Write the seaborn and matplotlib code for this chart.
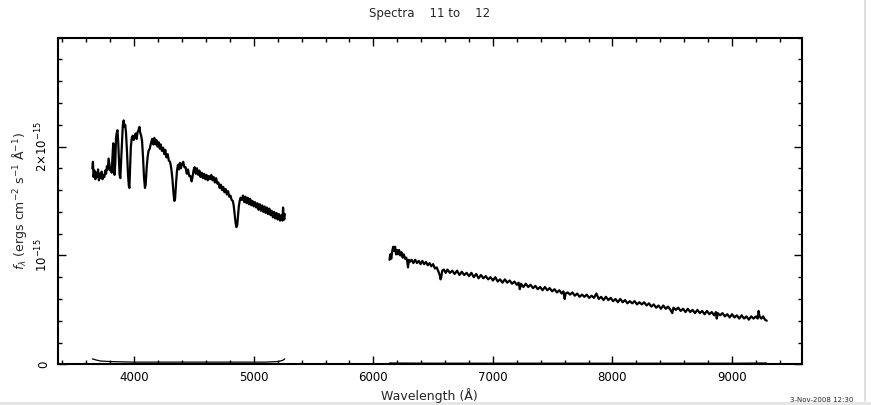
import numpy as np
import pandas as pd
import matplotlib
matplotlib.use("Agg")
import matplotlib.pyplot as plt
from matplotlib.ticker import MultipleLocator, FixedLocator, FixedFormatter
from matplotlib.lines import Line2D
from matplotlib.patches import Rectangle
import seaborn as sns

# ---------------- data (flux in units of 1e-15 erg/cm2/s/A) ----------------
wave_blue = [3650, 3655, 3660, 3668, 3675, 3682, 3690, 3698, 3705, 3712, 3720, 3728, 3735, 3742,
             3750, 3758, 3765, 3772, 3780, 3786, 3792, 3800, 3806, 3812, 3818, 3825, 3830, 3836,
             3842, 3848, 3853, 3860, 3866, 3872, 3878, 3884, 3890, 3898, 3905, 3912, 3918, 3925,
             3932, 3940, 3948, 3955, 3960, 3966, 3972, 3980, 3988, 3996, 4004, 4012, 4020, 4028,
             4036, 4044, 4050, 4058, 4066, 4074, 4082, 4090, 4096, 4104, 4112, 4120, 4130, 4140,
             4150, 4160, 4168, 4176, 4186, 4195, 4205, 4214, 4222, 4232, 4242, 4252, 4260, 4270,
             4280, 4290, 4300, 4310, 4320, 4328, 4336, 4342, 4350, 4358, 4366, 4374, 4382, 4390,
             4400, 4410, 4420, 4430, 4440, 4450, 4460, 4470, 4480, 4488, 4496, 4505, 4515, 4525,
             4535, 4545, 4555, 4565, 4575, 4585, 4595, 4605, 4615, 4625, 4635, 4645, 4655, 4665,
             4675, 4685, 4695, 4705, 4715, 4725, 4735, 4745, 4755, 4765, 4775, 4785, 4795, 4805,
             4815, 4825, 4832, 4840, 4848, 4855, 4862, 4868, 4875, 4882, 4890, 4900, 4910, 4920,
             4930, 4940, 4950, 4960, 4970, 4980, 4990, 5000, 5010, 5020, 5030, 5040, 5050, 5060,
             5070, 5080, 5090, 5100, 5110, 5120, 5130, 5140, 5150, 5160, 5170, 5180, 5190, 5200,
             5210, 5220, 5230, 5240, 5245, 5250, 5255, 5260]
flux_blue = [1.80, 1.86, 1.72, 1.78, 1.70, 1.76, 1.72, 1.79, 1.69, 1.75, 1.71, 1.77, 1.70, 1.74,
             1.72, 1.78, 1.75, 1.82, 1.79, 1.89, 1.84, 1.78, 1.80, 1.76, 1.90, 2.03, 1.95, 1.74,
             1.85, 2.08, 2.12, 2.15, 2.05, 1.90, 1.74, 1.71, 1.85, 2.05, 2.20, 2.24, 2.18, 2.20,
             2.12, 1.95, 1.75, 1.64, 1.62, 1.80, 2.00, 2.08, 2.10, 2.06, 2.10, 2.12, 2.07, 2.13,
             2.15, 2.18, 2.13, 2.10, 2.05, 1.90, 1.72, 1.62, 1.65, 1.80, 1.90, 1.96, 1.98, 2.03,
             2.07, 2.02, 2.08, 2.02, 2.06, 2.00, 2.04, 1.98, 2.02, 1.96, 1.99, 1.93, 1.97, 1.90,
             1.93, 1.87, 1.86, 1.80, 1.70, 1.58, 1.50, 1.52, 1.66, 1.78, 1.83, 1.79, 1.85, 1.80,
             1.84, 1.86, 1.81, 1.81, 1.75, 1.79, 1.73, 1.73, 1.68, 1.72, 1.78, 1.81, 1.75, 1.80,
             1.74, 1.78, 1.72, 1.76, 1.71, 1.75, 1.70, 1.74, 1.69, 1.73, 1.70, 1.74, 1.69, 1.72,
             1.67, 1.71, 1.66, 1.67, 1.62, 1.65, 1.60, 1.63, 1.58, 1.61, 1.56, 1.59, 1.54, 1.55,
             1.51, 1.50, 1.46, 1.38, 1.30, 1.26, 1.28, 1.36, 1.45, 1.50, 1.53, 1.51, 1.55, 1.49,
             1.54, 1.48, 1.53, 1.47, 1.52, 1.46, 1.50, 1.45, 1.49, 1.44, 1.48, 1.42, 1.47, 1.41,
             1.46, 1.40, 1.45, 1.39, 1.44, 1.38, 1.43, 1.37, 1.41, 1.35, 1.40, 1.34, 1.39, 1.33,
             1.38, 1.32, 1.37, 1.32, 1.44, 1.36, 1.33, 1.38]

wave_red = [6135, 6142, 6150, 6158, 6166, 6174, 6182, 6190, 6198, 6206, 6215, 6225, 6235, 6245,
            6255, 6265, 6275, 6283, 6290, 6297, 6305, 6320, 6335, 6350, 6365, 6380, 6395, 6410,
            6425, 6440, 6455, 6470, 6485, 6500, 6515, 6530, 6545, 6555, 6562, 6568, 6576, 6590,
            6605, 6620, 6640, 6660, 6680, 6700, 6720, 6740, 6760, 6780, 6800, 6820, 6840, 6860,
            6880, 6900, 6920, 6940, 6960, 6980, 7000, 7020, 7040, 7060, 7080, 7100, 7120, 7140,
            7160, 7180, 7200, 7215, 7225, 7235, 7255, 7275, 7295, 7315, 7335, 7355, 7375, 7395,
            7415, 7435, 7455, 7475, 7495, 7515, 7535, 7555, 7575, 7590, 7600, 7608, 7625, 7645,
            7665, 7685, 7705, 7725, 7745, 7765, 7785, 7805, 7825, 7845, 7865, 7885, 7905, 7925,
            7945, 7965, 7985, 8005, 8025, 8045, 8065, 8085, 8105, 8125, 8145, 8165, 8185, 8205,
            8225, 8245, 8265, 8285, 8305, 8325, 8345, 8365, 8385, 8405, 8425, 8445, 8465, 8485,
            8500, 8510, 8530, 8550, 8570, 8590, 8610, 8630, 8650, 8670, 8690, 8710, 8730, 8750,
            8770, 8790, 8810, 8830, 8850, 8865, 8872, 8880, 8900, 8920, 8940, 8960, 8980, 9000,
            9020, 9040, 9060, 9080, 9100, 9120, 9140, 9160, 9180, 9200, 9215, 9222, 9230, 9245,
            9260, 9275, 9290]
flux_red = [0.96, 1.01, 0.97, 1.04, 1.08, 1.04, 1.08, 1.01, 1.05, 1.01, 1.05, 1.00, 1.03, 0.98,
            1.01, 0.97, 0.98, 0.95, 0.89, 0.96, 0.94, 0.96, 0.93, 0.96, 0.93, 0.95, 0.92, 0.95,
            0.92, 0.94, 0.91, 0.93, 0.90, 0.92, 0.88, 0.89, 0.85, 0.82, 0.78, 0.80, 0.86, 0.87,
            0.84, 0.87, 0.84, 0.86, 0.83, 0.86, 0.82, 0.85, 0.82, 0.84, 0.81, 0.84, 0.80, 0.83,
            0.79, 0.82, 0.79, 0.81, 0.78, 0.80, 0.77, 0.80, 0.76, 0.78, 0.75, 0.78, 0.75, 0.77,
            0.74, 0.76, 0.73, 0.75, 0.69, 0.74, 0.71, 0.74, 0.71, 0.73, 0.70, 0.72, 0.69, 0.71,
            0.68, 0.71, 0.68, 0.70, 0.67, 0.69, 0.66, 0.68, 0.65, 0.67, 0.60, 0.65, 0.66, 0.64,
            0.66, 0.63, 0.65, 0.62, 0.64, 0.62, 0.64, 0.61, 0.63, 0.61, 0.65, 0.60, 0.62, 0.59,
            0.62, 0.59, 0.61, 0.58, 0.60, 0.57, 0.60, 0.57, 0.59, 0.56, 0.58, 0.56, 0.58, 0.55,
            0.57, 0.55, 0.57, 0.54, 0.56, 0.53, 0.55, 0.52, 0.54, 0.51, 0.54, 0.51, 0.53, 0.50,
            0.47, 0.52, 0.50, 0.52, 0.49, 0.51, 0.48, 0.51, 0.48, 0.50, 0.47, 0.50, 0.47, 0.49,
            0.46, 0.49, 0.46, 0.48, 0.45, 0.48, 0.42, 0.47, 0.45, 0.47, 0.44, 0.46, 0.43, 0.46,
            0.43, 0.45, 0.42, 0.45, 0.42, 0.44, 0.41, 0.44, 0.42, 0.44, 0.42, 0.49, 0.44, 0.42,
            0.44, 0.41, 0.40]

err_wave_blue = [3650, 3680, 3720, 3800, 4000, 4400, 4800, 5100, 5200, 5240, 5260]
err_flux_blue = [0.05, 0.04, 0.03, 0.025, 0.02, 0.02, 0.02, 0.02, 0.025, 0.035, 0.05]
err_wave_red = [6135, 6500, 7000, 7500, 8000, 8500, 9000, 9290]
err_flux_red = [0.012, 0.01, 0.01, 0.01, 0.01, 0.01, 0.01, 0.012]

xticks = [4000, 5000, 6000, 7000, 8000, 9000]
yticks = [0, 1e-15, 2e-15]
yticklabels = ["0", r"$10^{-15}$", r"$2{\times}10^{-15}$"]

SCALE = 1e-15

# ---------------- figure ----------------
sns.set_style("ticks")
plt.rcParams["font.family"] = ["DejaVu Sans"]

fig = plt.figure(figsize=(8.71, 4.05), dpi=100)
ax = fig.add_axes([0.0662, 0.1005, 0.8546, 0.8064])

segments = [
    (wave_blue, flux_blue, 1.6),
    (wave_red, flux_red, 1.6),
    (err_wave_blue, err_flux_blue, 0.9),
    (err_wave_red, err_flux_red, 0.9),
]
for w, f, lw in segments:
    n = min(len(w), len(f))
    df = pd.DataFrame({"wave": w[:n], "flux": np.array(f[:n]) * SCALE})
    sns.lineplot(data=df, x="wave", y="flux", ax=ax, color="black", lw=lw,
                 sort=False, estimator=None)

ax.set_xlim(3360, 9585)
ax.set_ylim(0, 3e-15)

ax.xaxis.set_major_locator(FixedLocator(xticks))
ax.xaxis.set_minor_locator(MultipleLocator(200))
ax.yaxis.set_major_locator(FixedLocator(yticks))
ax.yaxis.set_major_formatter(FixedFormatter(yticklabels))
ax.yaxis.set_minor_locator(MultipleLocator(0.2e-15))

ax.tick_params(which="both", direction="in", top=True, right=True, colors="black")
ax.tick_params(which="major", length=6, width=1.0, labelsize=8.5, pad=5)
ax.tick_params(which="minor", length=3, width=1.0)
for lab in ax.get_yticklabels():
    lab.set_rotation(90)
    lab.set_va("center")

for s in ax.spines.values():
    s.set_linewidth(1.5)
    s.set_color("black")

ax.set_xlabel("Wavelength (Å)", fontsize=9, labelpad=3)
ax.set_ylabel(r"$f_\lambda$ (ergs cm$^{-2}$ s$^{-1}$ Å$^{-1}$)", fontsize=9, labelpad=4)
ax.set_title("Spectra    11 to    12", fontsize=8.5, pad=15)

fig.text(790 / 871, 1 - 400 / 405, "3-Nov-2008 12:30", fontsize=5, ha="left", va="center")

# screenshot border details
fig.add_artist(Line2D([865 / 871, 865 / 871], [4 / 405, 1.0], color="#d8d8d8", lw=1.2))
fig.add_artist(Rectangle((0, 0), 1, 3 / 405, transform=fig.transFigure,
                         color="#e6e6e6", lw=0, zorder=-1))

fig.savefig("out.png", dpi=100)
